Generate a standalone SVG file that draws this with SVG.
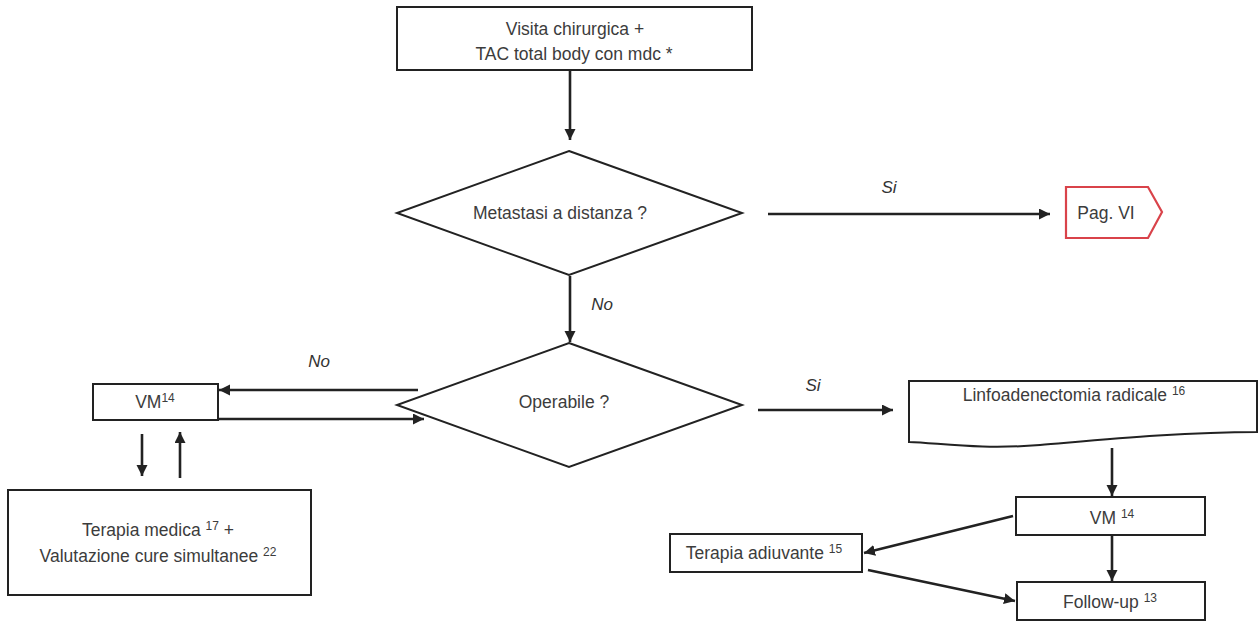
<svg xmlns="http://www.w3.org/2000/svg" width="1260" height="624" viewBox="0 0 1260 624">
<style>
.box{fill:#fff;stroke:#222;stroke-width:2}
.red{fill:#fff;stroke:#d9434a;stroke-width:2.2}
.t{font-family:"Liberation Sans",Arial,sans-serif;font-size:17.5px;fill:#3c3c3c;text-anchor:middle}
.lab{font-family:"Liberation Sans",Arial,sans-serif;font-size:17px;fill:#333;font-style:italic;text-anchor:middle}
.sup{font-size:12px}
.c{stroke:#222;stroke-width:2.6;fill:none;marker-end:url(#ah)}
</style>
<defs>
<marker id="ah" markerUnits="userSpaceOnUse" markerWidth="12" markerHeight="12" refX="11" refY="5.5" orient="auto">
<path d="M0,0 L11,5.5 L0,11 z" fill="#222"/>
</marker>
</defs>
<rect width="1260" height="624" fill="#fff"/>
<g id="n-visita">
<rect class="box" x="397" y="7" width="355" height="63"/>
<text class="t" x="575" y="35">Visita chirurgica +</text>
<text class="t" x="574" y="60">TAC total body con mdc *</text>
</g>
<g id="n-metastasi">
<polygon class="box" points="569,151 742,213 569,275 397,213"/>
<text class="t" x="560" y="219">Metastasi a distanza ?</text>
</g>
<g id="n-pagvi">
<polygon class="red" points="1066,187 1148,187 1162,212 1148,238 1066,238"/>
<text class="t" x="1106" y="219">Pag. VI</text>
</g>
<g id="n-operabile">
<polygon class="box" points="569,343 742,405 569,467 397,405"/>
<text class="t" x="564" y="408">Operabile ?</text>
</g>
<g id="n-vm-left">
<rect class="box" x="93" y="384" width="125" height="36"/>
<text class="t" x="155" y="408">VM<tspan class="sup" dy="-6">14</tspan></text>
</g>
<g id="n-terapia-medica">
<rect class="box" x="8" y="490" width="303" height="105"/>
<text class="t" x="158" y="536">Terapia medica <tspan class="sup" dy="-6">17</tspan><tspan dy="6">  +</tspan></text>
<text class="t" x="158" y="562">Valutazione cure simultanee <tspan class="sup" dy="-6">22</tspan></text>
</g>
<g id="n-linfo">
<path class="box" d="M909,381 H1257 V432 C1180,432 1100,440 1040,445 C980,450 940,443 909,442 Z"/>
<text class="t" x="1074" y="401">Linfoadenectomia radicale <tspan class="sup" dy="-6">16</tspan></text>
</g>
<g id="n-vm-right">
<rect class="box" x="1016" y="497" width="189" height="38"/>
<text class="t" x="1112" y="524">VM <tspan class="sup" dy="-6">14</tspan></text>
</g>
<g id="n-adiuvante">
<rect class="box" x="670" y="534" width="192" height="38"/>
<text class="t" x="764" y="559">Terapia adiuvante <tspan class="sup" dy="-6">15</tspan></text>
</g>
<g id="n-followup">
<rect class="box" x="1017" y="582" width="188" height="38"/>
<text class="t" x="1110" y="608">Follow-up <tspan class="sup" dy="-6">13</tspan></text>
</g>
<g id="connectors">
<line class="c" x1="570" y1="70" x2="570" y2="140"/>
<line class="c" x1="768" y1="214" x2="1050" y2="214"/>
<line class="c" x1="570" y1="276" x2="570" y2="342"/>
<line class="c" x1="418" y1="390" x2="219" y2="390"/>
<line class="c" x1="218" y1="419" x2="424" y2="419"/>
<line class="c" x1="142" y1="434" x2="142" y2="476"/>
<line class="c" x1="180" y1="478" x2="180" y2="432"/>
<line class="c" x1="758" y1="410" x2="893" y2="410"/>
<line class="c" x1="1112" y1="448" x2="1112" y2="496"/>
<line class="c" x1="1112" y1="536" x2="1112" y2="581"/>
<line class="c" x1="1013" y1="516" x2="864" y2="553"/>
<line class="c" x1="868" y1="570" x2="1015" y2="601"/>
<text class="lab" x="889" y="193">Si</text>
<text class="lab" x="602" y="310">No</text>
<text class="lab" x="319" y="367">No</text>
<text class="lab" x="813" y="391">Si</text>
</g>
</svg>
